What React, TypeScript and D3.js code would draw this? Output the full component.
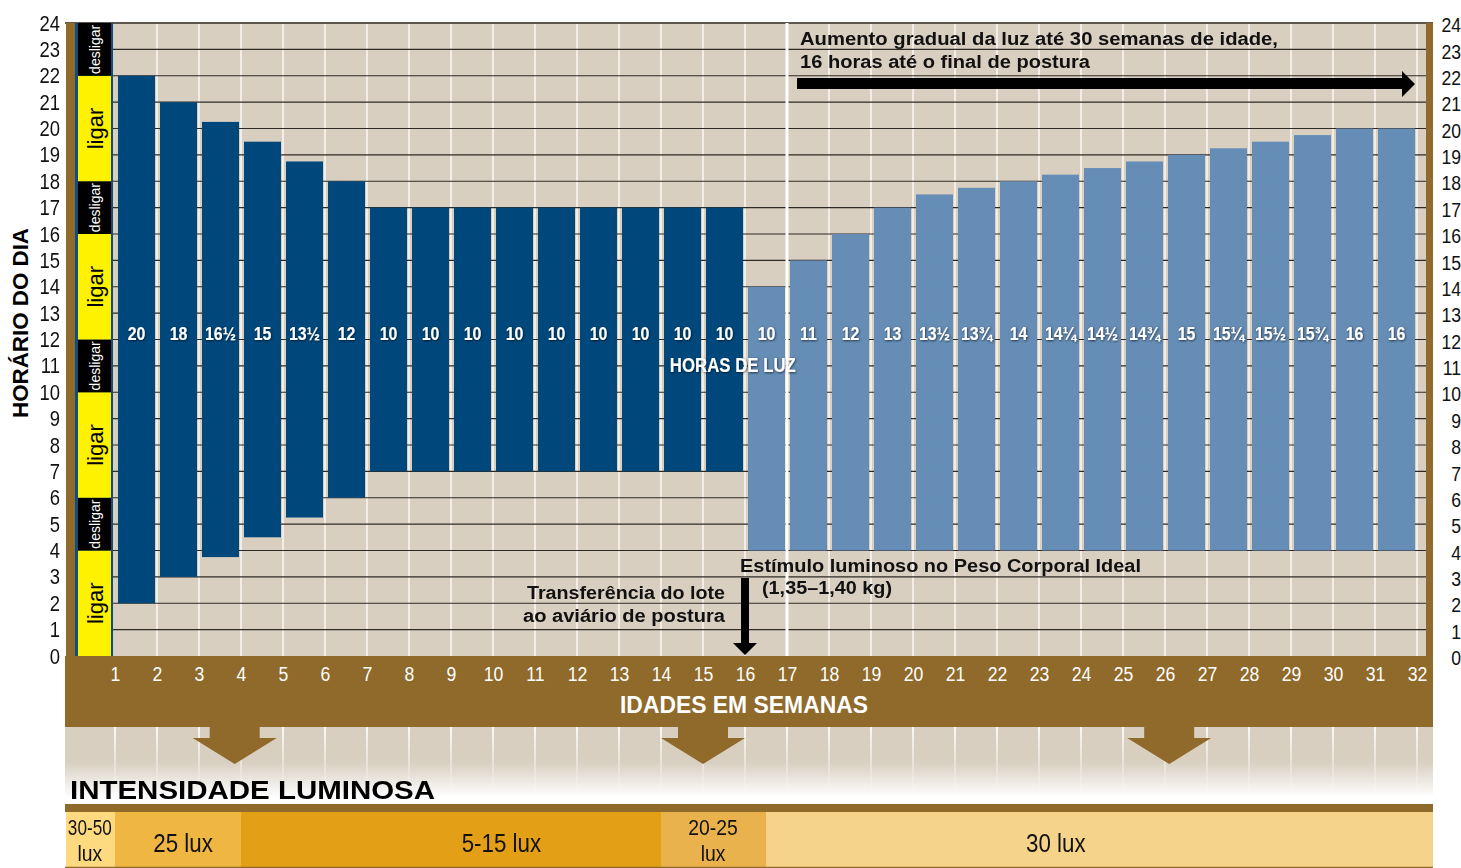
import React, { useEffect, useRef } from "react";
import * as d3 from "d3";

// values
const weekTicks = [1, 2, 3, 4, 5, 6, 7, 8, 9, 10, 11, 12, 13, 14, 15, 16, 17, 18, 19, 20, 21, 22, 23, 24, 25, 26, 27, 28, 29, 30, 31, 32];
const hourTicks = [0, 1, 2, 3, 4, 5, 6, 7, 8, 9, 10, 11, 12, 13, 14, 15, 16, 17, 18, 19, 20, 21, 22, 23, 24];

// one bar per week (week 1 .. 31), light on / light off hour
const barWeeks = [1, 2, 3, 4, 5, 6, 7, 8, 9, 10, 11, 12, 13, 14, 15, 16, 17, 18, 19, 20, 21, 22, 23, 24, 25, 26, 27, 28, 29, 30, 31];
const lightsOn = [2, 3, 3.75, 4.5, 5.25, 6, 7, 7, 7, 7, 7, 7, 7, 7, 7, 4, 4, 4, 4, 4, 4, 4, 4, 4, 4, 4, 4, 4, 4, 4, 4];
const lightsOff = [22, 21, 20.25, 19.5, 18.75, 18, 17, 17, 17, 17, 17, 17, 17, 17, 17, 14, 15, 16, 17, 17.5, 17.75, 18, 18.25, 18.5, 18.75, 19, 19.25, 19.5, 19.75, 20, 20];
const hoursOfLight = ["20", "18", "16½", "15", "13½", "12", "10", "10", "10", "10", "10", "10", "10", "10", "10", "10", "11", "12", "13", "13½", "13¾", "14", "14¼", "14½", "14¾", "15", "15¼", "15½", "15¾", "16", "16"];
const transferWeek = 16;
const stimulusWeek = 17;

// on/off legend strip on the left
const scheduleFrom = [0, 4, 6, 10, 12, 16, 18, 22];
const scheduleTo = [4, 6, 10, 12, 16, 18, 22, 24];
const scheduleLabels = ["ligar", "desligar", "ligar", "desligar", "ligar", "desligar", "ligar", "desligar"];

// light intensity band
const luxLabels = [["30-50", "lux"], ["25 lux"], ["5-15 lux"], ["20-25", "lux"], ["30 lux"]];
const luxBreaks = [1, 4, 14, 16.5];
const luxLabelWeeks = [0.4, 2.62, 10.2, 15.24, 23.4];
const luxArrowWeeks = [3.85, 15, 26.1];

const luxColors = ["#fdd97f", "#efb742", "#e3a017", "#e9b24d", "#f6d38b"];

const SANS = "'Liberation Sans', Arial, Helvetica, sans-serif";
const NARROW = 0.84; // horizontal squeeze to imitate the condensed face

const App = () => {
  const svgRef = useRef<SVGSVGElement>(null);

  useEffect(() => {
    document.body.style.margin = "0";
    const width = 1461;
    const height = 868;
    const plotLeft = 113;
    const plotRight = 1426;
    const plotTop = 23;
    const plotBottom = 656;
    const bandLeft = 65;
    const bandRight = 1433;
    const axisBandBottom = 727;
    const fadeBottom = 803;
    const luxTop = 812;
    const luxBottom = 867;

    const brown = "#8f6a2b";
    const beige = "#d8cfc0";

    const x = d3.scaleLinear().domain([1, 32]).range([115, 1417]);
    const y = d3.scaleLinear().domain([0, 24]).range([plotBottom, plotTop]);

    const svg = d3.select(svgRef.current).attr("width", width).attr("height", height);
    svg.selectAll("*").remove();

    const defs = svg.append("defs");
    const fade = defs.append("linearGradient").attr("id", "fade").attr("x1", 0).attr("y1", 0).attr("x2", 0).attr("y2", 1);
    fade.append("stop").attr("offset", 0).attr("stop-color", beige);
    fade.append("stop").attr("offset", 0.46).attr("stop-color", beige);
    fade.append("stop").attr("offset", 0.93).attr("stop-color", "#ffffff");
    const fadeLine = defs
      .append("linearGradient")
      .attr("id", "fadeLine")
      .attr("gradientUnits", "userSpaceOnUse")
      .attr("x1", 0).attr("y1", axisBandBottom).attr("x2", 0).attr("y2", fadeBottom - 8);
    fadeLine.append("stop").attr("offset", 0).attr("stop-color", "#fff").attr("stop-opacity", 0.85);
    fadeLine.append("stop").attr("offset", 1).attr("stop-color", "#fff").attr("stop-opacity", 0);
    const shadow = defs.append("filter").attr("id", "shadow").attr("x", "-20%").attr("y", "-30%").attr("width", "140%").attr("height", "160%");
    shadow.append("feDropShadow").attr("dx", 0.6).attr("dy", 0.8).attr("stdDeviation", 1).attr("flood-color", "#000").attr("flood-opacity", 0.7);

    // condensed looking text
    const narrowText = (parent: any, tx: number, ty: number, txt: string, size: number, bold = false, squeeze = NARROW) =>
      parent.append("text")
        .attr("transform", `translate(${tx}, ${ty}) scale(${squeeze}, 1)`)
        .attr("text-anchor", "middle")
        .style("font-family", SANS)
        .style("font-weight", bold ? "bold" : "normal")
        .style("font-size", `${size}px`)
        .text(txt);

    // plot background
    svg.append("rect")
      .attr("x", plotLeft).attr("y", plotTop)
      .attr("width", plotRight - plotLeft).attr("height", plotBottom - plotTop)
      .attr("fill", beige);

    // white column lines
    svg.append("g")
      .selectAll("line")
      .data(weekTicks.slice(1))
      .join("line")
      .attr("x1", (d) => x(d)).attr("x2", (d) => x(d))
      .attr("y1", plotTop).attr("y2", plotBottom)
      .attr("stroke", "#f2eee7").attr("stroke-width", 2);

    // hour grid lines
    svg.append("g")
      .selectAll("line")
      .data(hourTicks.slice(1, 24))
      .join("line")
      .attr("x1", plotLeft).attr("x2", plotRight)
      .attr("y1", (d) => y(d)).attr("y2", (d) => y(d))
      .attr("stroke", "#2e2a25").attr("stroke-width", 1.2);

    svg.append("line")
      .attr("x1", bandLeft).attr("x2", bandRight)
      .attr("y1", y(24)).attr("y2", y(24))
      .attr("stroke", "#5d574f").attr("stroke-width", 2);

    // bars
    svg.append("g")
      .selectAll("rect")
      .data(barWeeks)
      .join("rect")
      .attr("x", (d) => x(d) + 3)
      .attr("width", (d) => x(d + 1) - x(d) - 5)
      .attr("y", (d, i) => y(lightsOff[i]))
      .attr("height", (d, i) => y(lightsOn[i]) - y(lightsOff[i]))
      .attr("fill", (d) => (d < transferWeek ? "#00487c" : "#668db6"));

    // bar labels
    const barText = svg.append("g").attr("fill", "#fff").attr("filter", "url(#shadow)");
    barWeeks.forEach((d, i) => {
      narrowText(barText, (x(d) + x(d + 1)) / 2 + 0.5, y(12) + 0.5, hoursOfLight[i], 19, true);
    });
    narrowText(barText, x(15.71), y(10.75), "HORAS DE LUZ", 20, true);

    // light stimulation divider
    svg.append("line")
      .attr("x1", x(stimulusWeek)).attr("x2", x(stimulusWeek))
      .attr("y1", plotTop).attr("y2", plotBottom)
      .attr("stroke", "#fff").attr("stroke-width", 3);

    // left frame and on/off strip
    svg.append("rect").attr("x", 66).attr("y", plotTop).attr("width", 9).attr("height", plotBottom - plotTop).attr("fill", brown);
    svg.append("rect").attr("x", 75).attr("y", plotTop).attr("width", 38).attr("height", plotBottom - plotTop).attr("fill", "#0f4d80");
    const strip = svg.append("g");
    strip.selectAll("rect")
      .data(scheduleLabels)
      .join("rect")
      .attr("x", 78).attr("width", 33)
      .attr("y", (d, i) => y(scheduleTo[i]))
      .attr("height", (d, i) => y(scheduleFrom[i]) - y(scheduleTo[i]))
      .attr("fill", (d) => (d === "ligar" ? "#fff200" : "#000"));
    strip.selectAll("text")
      .data(scheduleLabels)
      .join("text")
      .attr("transform", (d, i) => `translate(95, ${y((scheduleFrom[i] + scheduleTo[i]) / 2)}) rotate(-90)`)
      .attr("text-anchor", "middle")
      .attr("dy", "0.35em")
      .attr("fill", (d) => (d === "ligar" ? "#000" : "#fff"))
      .style("font-family", SANS)
      .style("font-size", (d) => (d === "ligar" ? "22px" : "14px"))
      .text((d) => d);

    // right frame
    svg.append("rect").attr("x", plotRight).attr("y", plotTop).attr("width", bandRight - plotRight).attr("height", plotBottom - plotTop).attr("fill", brown);

    // week band
    svg.append("rect").attr("x", bandLeft).attr("y", plotBottom).attr("width", bandRight - bandLeft).attr("height", axisBandBottom - plotBottom).attr("fill", brown);

    // fading band below
    svg.append("rect").attr("x", bandLeft).attr("y", axisBandBottom).attr("width", bandRight - bandLeft).attr("height", fadeBottom - axisBandBottom).attr("fill", "url(#fade)");
    svg.append("g")
      .selectAll("line")
      .data(weekTicks)
      .join("line")
      .attr("x1", (d) => x(d)).attr("x2", (d) => x(d))
      .attr("y1", axisBandBottom).attr("y2", fadeBottom - 8)
      .attr("stroke", "url(#fadeLine)").attr("stroke-width", 2);

    // brown arrows pointing at the intensity band
    svg.append("g")
      .selectAll("path")
      .data(luxArrowWeeks)
      .join("path")
      .attr("d", (d) => {
        const c = x(d);
        const p = d3.path();
        p.moveTo(c - 25, axisBandBottom - 1);
        p.lineTo(c + 25, axisBandBottom - 1);
        p.lineTo(c + 25, 738);
        p.lineTo(c + 42, 738);
        p.lineTo(c, 764);
        p.lineTo(c - 42, 738);
        p.lineTo(c - 25, 738);
        p.closePath();
        return p.toString();
      })
      .attr("fill", brown);

    // hour axes
    const left = svg.append("g")
      .attr("transform", "translate(60, 0)")
      .call(d3.axisLeft(y).tickValues(hourTicks).tickSize(0).tickPadding(0));
    left.select(".domain").remove();
    left.selectAll("text")
      .attr("transform", `scale(${NARROW}, 1)`)
      .style("font-family", SANS).style("font-size", "22px").attr("fill", "#111");

    const right = svg.append("g")
      .attr("transform", "translate(1461, 2)")
      .call(d3.axisLeft(y).tickValues(hourTicks).tickSize(0).tickPadding(0));
    right.select(".domain").remove();
    right.selectAll("text")
      .attr("transform", `scale(${NARROW}, 1)`)
      .style("font-family", SANS).style("font-size", "21px").attr("fill", "#111");

    // week axis
    const bottom = svg.append("g")
      .attr("transform", `translate(0, ${plotBottom})`)
      .call(d3.axisBottom(x).tickValues(weekTicks).tickSize(0).tickPadding(10));
    bottom.select(".domain").remove();
    bottom.selectAll("text")
      .attr("transform", `scale(${NARROW}, 1)`)
      .style("font-family", SANS).style("font-size", "21px").attr("fill", "#fff");

    svg.append("text")
      .attr("x", 744).attr("y", 713)
      .attr("text-anchor", "middle").attr("fill", "#fff")
      .attr("textLength", 248).attr("lengthAdjust", "spacingAndGlyphs")
      .style("font-family", SANS).style("font-weight", "bold").style("font-size", "23px")
      .text("IDADES EM SEMANAS");

    svg.append("text")
      .attr("transform", "translate(28, 323) rotate(-90)")
      .attr("text-anchor", "middle").attr("fill", "#000")
      .attr("textLength", 190).attr("lengthAdjust", "spacingAndGlyphs")
      .style("font-family", SANS).style("font-weight", "bold").style("font-size", "22px")
      .text("HORÁRIO DO DIA");

    // light intensity section
    svg.append("text")
      .attr("x", 70).attr("y", 799)
      .attr("textLength", 365).attr("lengthAdjust", "spacingAndGlyphs")
      .style("font-family", SANS).style("font-weight", 900).style("font-size", "25px")
      .text("INTENSIDADE LUMINOSA");

    svg.append("rect").attr("x", bandLeft).attr("y", 804).attr("width", bandRight - bandLeft).attr("height", luxTop - 804).attr("fill", brown);

    const edges = [bandLeft + 1, ...luxBreaks.map((b) => x(b)), bandRight];
    const lux = svg.append("g");
    lux.selectAll("rect")
      .data(luxLabels)
      .join("rect")
      .attr("x", (d, i) => edges[i])
      .attr("width", (d, i) => edges[i + 1] - edges[i])
      .attr("y", luxTop).attr("height", luxBottom - luxTop)
      .attr("fill", (d, i) => luxColors[i]);
    svg.append("line").attr("x1", bandLeft).attr("x2", bandRight).attr("y1", luxBottom + 0.5).attr("y2", luxBottom + 0.5).attr("stroke", brown).attr("stroke-width", 1.5);

    const luxText = svg.append("g").attr("fill", "#111");
    luxLabels.forEach((lines, i) => {
      const cx = x(luxLabelWeeks[i]);
      if (lines.length === 1) {
        narrowText(luxText, cx, 852, lines[0], 26, false, 0.86);
      } else {
        narrowText(luxText, cx, 835, lines[0], 22, false, i === 0 ? 0.78 : 0.88);
        narrowText(luxText, cx, 861, lines[1], 22, false, 0.88);
      }
    });

    // annotations
    const note = (tx: number, ty: number, txt: string, len: number, anchor = "start") =>
      svg.append("text")
        .attr("x", tx).attr("y", ty)
        .attr("text-anchor", anchor)
        .attr("textLength", len).attr("lengthAdjust", "spacingAndGlyphs")
        .attr("fill", "#111")
        .style("font-family", SANS).style("font-weight", "bold").style("font-size", "18px")
        .text(txt);

    note(800, 45, "Aumento gradual da luz até 30 semanas de idade,", 478);
    note(800, 68, "16 horas até o final de postura", 290);
    note(740, 572, "Estímulo luminoso no Peso Corporal Ideal", 401);
    note(762, 594, "(1,35–1,40 kg)", 130);
    note(725, 599, "Transferência do lote", 198, "end");
    note(725, 622, "ao aviário de postura", 202, "end");

    svg.append("path")
      .attr("d", "M797,78 L1402,78 L1402,71 L1415,84 L1402,97 L1402,89 L797,89 Z")
      .attr("fill", "#000");

    const tx = x(transferWeek);
    svg.append("path")
      .attr("d", `M${tx - 4},578 L${tx + 4},578 L${tx + 4},643 L${tx + 12},643 L${tx},655 L${tx - 12},643 L${tx - 4},643 Z`)
      .attr("fill", "#000");
  }, []);

  return (
    <div>
      <svg ref={svgRef} style={{ display: "block" }}></svg>
    </div>
  );
};

export default App;
